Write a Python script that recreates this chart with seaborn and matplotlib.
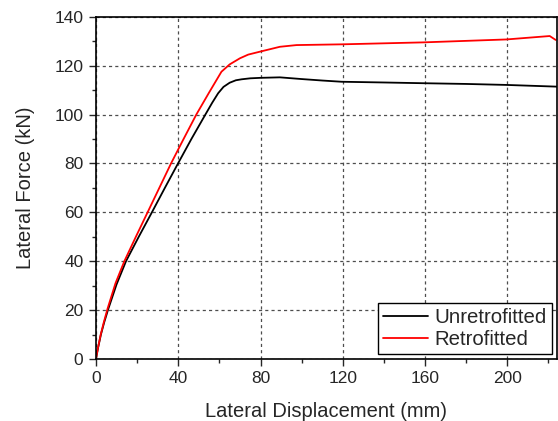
import matplotlib
matplotlib.use("Agg")
import matplotlib.pyplot as plt
from matplotlib.ticker import MultipleLocator
import seaborn as sns
import pandas as pd

unretro_x = [0, 1.0, 2.4, 4.0, 6.0, 10, 14.6, 20.8, 27.2, 33.5, 39.9, 46.4, 53.2, 56.5, 59.4, 62, 65, 68, 70.8, 75, 80, 89.4, 100, 110, 119.4, 140, 159, 180, 199.5, 224]
unretro_y = [0, 4.5, 10, 15, 20.5, 30.5, 40, 50, 60, 70, 80, 90, 100, 104.8, 108.7, 111.3, 113, 114, 114.4, 114.8, 115, 115.2, 114.5, 113.9, 113.4, 113.1, 112.8, 112.5, 112.1, 111.4]
retro_x = [0, 1.0, 2.3, 3.8, 5.6, 9.5, 13.8, 19.4, 25.1, 30.8, 36.5, 42.6, 48.8, 55, 61, 65, 70, 74, 79.7, 89.4, 97.5, 119.4, 159, 199.5, 220.6, 223.5]
retro_y = [0, 4.7, 10, 15, 20.5, 31, 40, 50, 60, 70, 80, 90, 100, 109, 117.5, 120.5, 123, 124.5, 125.7, 127.7, 128.4, 128.7, 129.5, 130.7, 132.1, 130.5]
series_names = ["Unretrofitted", "Retrofitted"]

sns.set_style("ticks")
plt.rcParams['font.family'] = ['Liberation Sans', 'DejaVu Sans']

df = pd.concat([
    pd.DataFrame({"x": unretro_x, "y": unretro_y, "series": series_names[0]}),
    pd.DataFrame({"x": retro_x, "y": retro_y, "series": series_names[1]}),
], ignore_index=True)

fig = plt.figure(figsize=(5.58, 4.21), dpi=100)
ax = fig.add_axes([0.172, 0.1473, 0.8257, 0.813])

sns.lineplot(data=df, x="x", y="y", hue="series", sort=False, estimator=None,
             palette={"Unretrofitted": "black", "Retrofitted": "#ff0000"},
             linewidth=1.3, ax=ax)

ax.set_xlim(0, 224)
ax.set_ylim(0, 140)
ax.xaxis.set_major_locator(MultipleLocator(40))
ax.xaxis.set_minor_locator(MultipleLocator(20))
ax.yaxis.set_major_locator(MultipleLocator(20))
ax.yaxis.set_minor_locator(MultipleLocator(10))
ax.tick_params(which="major", direction="out", length=5, width=1, labelsize=12.5, pad=4)
ax.tick_params(which="minor", direction="out", length=3, width=1)
ax.grid(True, which="major", linestyle=(0, (2.5, 2.5)), color="0.3", linewidth=0.9)
for s in ax.spines.values():
    s.set_linewidth(1.2)
    s.set_color("black")
    s.set_visible(True)

ax.set_xlabel("Lateral Displacement (mm)", fontsize=14.5, labelpad=11)
ax.set_ylabel("Lateral Force (kN)", fontsize=14.5, labelpad=14)

leg = ax.legend(loc="lower right", fontsize=14.7, frameon=True, fancybox=False,
                handlelength=2.2, borderpad=0.25, labelspacing=0.12,
                handletextpad=0.3, borderaxespad=0.25)
leg.get_frame().set_edgecolor("black")
leg.get_frame().set_linewidth(1.0)
leg.get_frame().set_alpha(1)
leg.set_title(None)

fig.savefig("out.png", dpi=100)
